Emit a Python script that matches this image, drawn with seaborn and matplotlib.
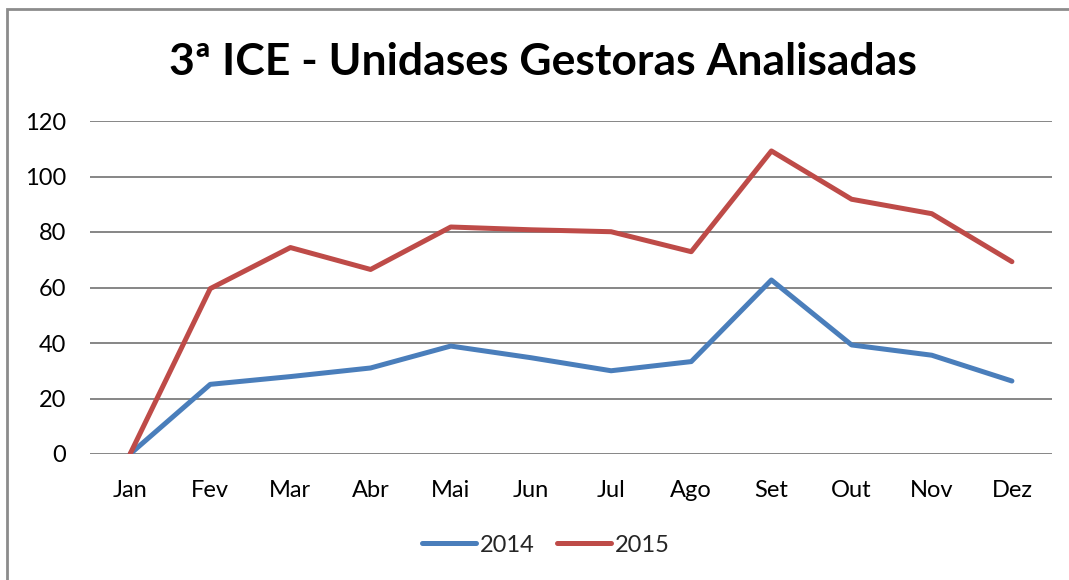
import matplotlib
matplotlib.use('Agg')
import matplotlib.pyplot as plt
import seaborn as sns
import pandas as pd
from matplotlib.patches import Rectangle

months = ['Jan', 'Fev', 'Mar', 'Abr', 'Mai', 'Jun', 'Jul', 'Ago', 'Set', 'Out', 'Nov', 'Dez']
vals_2014 = [0, 25.1, 27.9, 31.0, 38.9, 34.7, 30.0, 33.3, 62.7, 39.3, 35.6, 26.3]
vals_2015 = [0, 59.6, 74.4, 66.5, 81.8, 80.8, 80.1, 72.9, 109.2, 91.8, 86.6, 69.3]
years = ['2014', '2015']

df = pd.DataFrame({
    'mes': months * 2,
    'x': list(range(len(months))) * 2,
    'valor': vals_2014 + vals_2015,
    'ano': [years[0]] * len(months) + [years[1]] * len(months),
})

sns.set_style('white')
plt.rcParams['font.family'] = ['Lato', 'DejaVu Sans']

fig = plt.figure(figsize=(10.69, 5.80), dpi=100)
ax = fig.add_axes([90 / 1069, 126 / 580, 962 / 1069, 333 / 580])

sns.lineplot(data=df, x='x', y='valor', hue='ano',
             palette={'2014': '#4A7EBB', '2015': '#BE4B48'},
             linewidth=3.6, ax=ax, legend=True, sort=False,
             solid_capstyle='round', solid_joinstyle='round')

ax.set_xlim(-0.5, 11.5)
ax.set_ylim(0, 120)
ax.set_xticks(range(len(months)))
ax.set_xticklabels(months)
ax.set_yticks(range(0, 121, 20))
ax.grid(axis='y', color='#868686', linewidth=1.4)
ax.set_axisbelow(True)
for s in ax.spines.values():
    s.set_visible(False)
ax.tick_params(axis='both', length=0, labelsize=17, colors='black')
ax.tick_params(axis='x', pad=19)
ax.tick_params(axis='y', pad=17)
ax.set_xlabel('')
ax.set_ylabel('')

handles, labels = ax.get_legend_handles_labels()
for h in handles:
    h.set_solid_capstyle('round')
ax.legend(handles, labels, loc='center', bbox_to_anchor=(546 / 1069, 35 / 580),
          bbox_transform=fig.transFigure, ncol=2, frameon=False, fontsize=17,
          handlelength=2.3, handletextpad=0.15, columnspacing=0.95)

fig.text(543 / 1069, 1 - 62 / 580, '3ª ICE - Unidases Gestoras Analisadas',
         ha='center', va='center', fontsize=32, fontweight='bold', color='black')

fig.patches.append(Rectangle((7 / 1069, -0.1), 1.2, 1 - 9 / 580 + 0.1,
                             transform=fig.transFigure, fill=False,
                             edgecolor='#8c8c8c', linewidth=2))

fig.savefig('out.png', dpi=100)
